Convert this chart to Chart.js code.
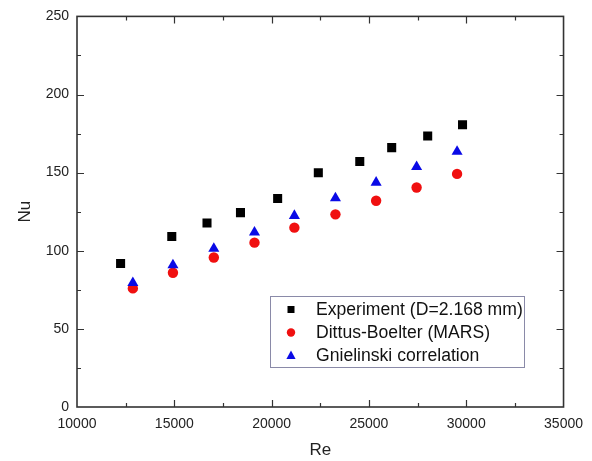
<!DOCTYPE html>
<html>
<head>
<meta charset="utf-8">
<script src="https://cdn.jsdelivr.net/npm/chart.js@4/dist/chart.umd.min.js"></script>
<style>
html,body{margin:0;padding:0;background:#fff;}
#wrap{width:592px;height:461px;position:relative;}
</style>
</head>
<body>
<div id="wrap"><canvas id="c" width="592" height="461"></canvas></div>
<script>
// ---- data ----
const seriesNames = ["Experiment (D=2.168 mm)", "Dittus-Boelter (MARS)", "Gnielinski correlation"];
const expRe = [12240, 14870, 16680, 18400, 20310, 22400, 24530, 26170, 28020, 29810];
const expNu = [91.8, 109.1, 117.8, 124.4, 133.5, 149.9, 157.1, 166.0, 173.5, 180.7];
const corrRe = [12870, 14930, 17030, 19120, 21170, 23280, 25370, 27450, 29530];
const dittusNu = [75.9, 85.9, 95.7, 105.2, 114.8, 123.3, 132.0, 140.5, 149.2];
const gnielNu = [79.5, 90.8, 101.4, 111.8, 122.4, 133.7, 143.7, 153.7, 163.5];
const xTicks = [10000, 15000, 20000, 25000, 30000, 35000];
const yTicks = [0, 50, 100, 150, 200, 250];
const xTitle = "Re";
const yTitle = "Nu";

const toPts = (xs, ys) => xs.map((x, i) => ({x: x, y: ys[i]}));
const FONT = "'Liberation Sans', Arial, sans-serif";

const frameTicks = {
  id: 'frameTicks',
  afterDatasetsDraw(chart) {
    const {ctx, chartArea: a, scales: {x, y}} = chart;
    ctx.save();
    ctx.strokeStyle = '#333';
    ctx.lineWidth = 1.6;
    ctx.strokeRect(a.left, a.top, a.right - a.left, a.bottom - a.top);
    ctx.lineWidth = 1.2;
    ctx.beginPath();
    const xs = xTicks[1] - xTicks[0], ys = yTicks[1] - yTicks[0];
    for (let v = xTicks[0]; v <= xTicks[xTicks.length - 1]; v += xs / 2) {
      const px = Math.round(x.getPixelForValue(v)) + 0.5;
      const major = (v - xTicks[0]) % xs === 0;
      const L = major ? 7 : 4;
      if (v === xTicks[0] || v === xTicks[xTicks.length - 1]) continue;
      ctx.moveTo(px, a.bottom); ctx.lineTo(px, a.bottom - L);
      ctx.moveTo(px, a.top); ctx.lineTo(px, a.top + L);
    }
    for (let v = yTicks[0]; v <= yTicks[yTicks.length - 1]; v += ys / 2) {
      const py = Math.round(y.getPixelForValue(v)) + 0.5;
      const major = (v - yTicks[0]) % ys === 0;
      const L = major ? 7 : 4;
      if (v === yTicks[0] || v === yTicks[yTicks.length - 1]) continue;
      ctx.moveTo(a.left, py); ctx.lineTo(a.left + L, py);
      ctx.moveTo(a.right, py); ctx.lineTo(a.right - L, py);
    }
    ctx.stroke();
    ctx.restore();
  },
  afterDraw(chart) {
    const {ctx} = chart;
    ctx.save();
    const bx = 270.5, by = 296.5, bw = 254, bh = 71;
    ctx.fillStyle = '#fff';
    ctx.fillRect(bx, by, bw, bh);
    ctx.strokeStyle = '#8a8aa8';
    ctx.lineWidth = 1;
    ctx.strokeRect(bx, by, bw, bh);
    const rows = [309.5, 332.5, 355.5];
    const mx = 291;
    ctx.font = "17.6px " + FONT;
    ctx.textBaseline = 'middle';
    ctx.textAlign = 'left';
    chart.data.datasets.forEach((ds, i) => {
      const cy = rows[i];
      ctx.fillStyle = ds.backgroundColor;
      ctx.beginPath();
      if (ds.pointStyle === 'rect') {
        ctx.rect(mx - 3.5, cy - 3.5, 7, 7);
      } else if (ds.pointStyle === 'circle') {
        ctx.arc(mx, cy, 4.2, 0, Math.PI * 2);
      } else {
        ctx.moveTo(mx, cy - 5); ctx.lineTo(mx + 4.6, cy + 3.5); ctx.lineTo(mx - 4.6, cy + 3.5); ctx.closePath();
      }
      ctx.fill();
      ctx.fillStyle = '#111';
      ctx.fillText(ds.label, 316, cy + 1);
    });
    ctx.restore();
  }
};

new Chart(document.getElementById('c'), {
  type: 'scatter',
  data: {
    datasets: [
      {label: seriesNames[0], data: toPts(expRe, expNu), pointStyle: 'rect', pointRadius: 6.4, pointHoverRadius: 6.4,
       backgroundColor: '#000', borderColor: '#000', borderWidth: 0, order: 2},
      {label: seriesNames[1], data: toPts(corrRe, dittusNu), pointStyle: 'circle', pointRadius: 5.2, pointHoverRadius: 5.2,
       backgroundColor: '#f01010', borderColor: '#f01010', borderWidth: 0, order: 1},
      {label: seriesNames[2], data: toPts(corrRe, gnielNu), pointStyle: 'triangle', pointRadius: 6.4, pointHoverRadius: 6.4,
       backgroundColor: '#0a0ae6', borderColor: '#0a0ae6', borderWidth: 0, order: 0}
    ]
  },
  options: {
    responsive: false,
    animation: false,
    events: [],
    layout: {padding: {top: 15, right: 27, left: 0, bottom: 0}},
    plugins: {legend: {display: false}, tooltip: {enabled: false}},
    scales: {
      x: {
        type: 'linear', min: xTicks[0], max: xTicks[xTicks.length - 1],
        grid: {display: false, drawTicks: false},
        border: {display: false},
        afterBuildTicks: s => { s.ticks = xTicks.map(v => ({value: v})); },
        ticks: {color: '#222', font: {family: FONT, size: 14}, padding: 9, maxRotation: 0,
                callback: v => String(v)},
        title: {display: true, text: xTitle, color: '#222', font: {family: FONT, size: 17}, padding: 0},
        afterFit: s => { s.height = 54; }
      },
      y: {
        type: 'linear', min: yTicks[0], max: yTicks[yTicks.length - 1],
        grid: {display: false, drawTicks: false},
        border: {display: false},
        afterBuildTicks: s => { s.ticks = yTicks.map(v => ({value: v})); },
        ticks: {color: '#222', font: {family: FONT, size: 14}, padding: 8,
                callback: v => String(v)},
        title: {display: true, text: yTitle, color: '#222', font: {family: FONT, size: 17}, padding: 15},
        afterFit: s => { s.width = 77; }
      }
    }
  },
  plugins: [frameTicks]
});
</script>
</body>
</html>
